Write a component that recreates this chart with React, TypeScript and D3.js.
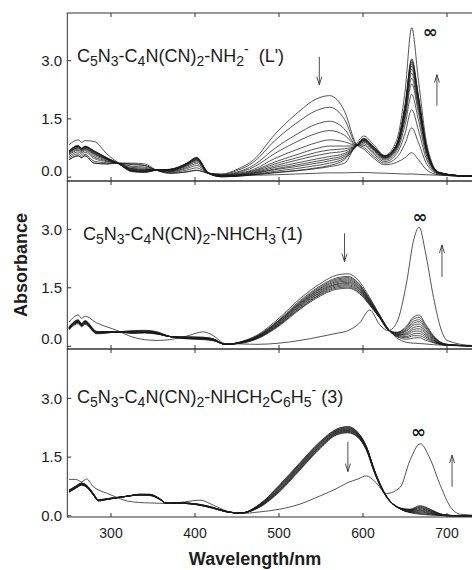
import React from 'react';
import * as d3 from 'd3';

// wavelength grids (nm) for each panel
const WL1 = [250, 261, 265, 269, 280, 295, 308, 325, 340, 354, 370, 390, 402, 416, 432, 450, 470, 495, 520, 545, 560, 578, 592, 601, 612, 626, 640, 650, 658, 666, 676, 690, 720, 760];
const WL2 = [250, 261, 265, 269, 283, 308, 325, 340, 355, 370, 390, 410, 422, 436, 455, 475, 500, 525, 550, 568, 582, 596, 608, 620, 630, 640, 652, 660, 667, 674, 684, 692, 700, 730, 760];
const WL3 = [250, 258, 265, 271, 279, 285, 296, 319, 334, 346, 358, 366, 382, 406, 422, 438, 454, 477, 501, 525, 549, 569, 582, 594, 604, 614, 628, 644, 656, 668, 680, 692, 704, 716, 740, 760];

// panel 1: C5N3-C4N(CN)2-NH2- (L') titration spectra
const L1_SPECTRA = [
  [0.45, 0.55, 0.5, 0.55, 0.36, 0.34, 0.36, 0.36, 0.34, 0.18, 0.1, 0.14, 0.18, 0.1, 0.08, 0.2, 0.45, 1.1, 1.62, 2.02, 2.1, 1.7, 0.85, 0.72, 0.5, 0.32, 0.38, 0.5, 0.63, 0.45, 0.18, 0.06, 0.02, 0.01],
  [0.49, 0.6, 0.54, 0.59, 0.41, 0.37, 0.36, 0.32, 0.3, 0.18, 0.12, 0.18, 0.24, 0.1, 0.07, 0.17, 0.39, 0.94, 1.38, 1.72, 1.8, 1.49, 0.84, 0.77, 0.55, 0.36, 0.5, 0.86, 1.27, 0.89, 0.33, 0.08, 0.02, 0.01],
  [0.53, 0.65, 0.59, 0.64, 0.48, 0.4, 0.36, 0.28, 0.26, 0.18, 0.14, 0.22, 0.3, 0.1, 0.05, 0.13, 0.31, 0.74, 1.09, 1.37, 1.44, 1.24, 0.83, 0.82, 0.61, 0.4, 0.6, 1.12, 1.74, 1.21, 0.44, 0.09, 0.02, 0.01],
  [0.57, 0.69, 0.63, 0.68, 0.52, 0.42, 0.36, 0.25, 0.23, 0.18, 0.15, 0.25, 0.35, 0.1, 0.05, 0.11, 0.26, 0.61, 0.9, 1.13, 1.2, 1.08, 0.83, 0.86, 0.65, 0.44, 0.67, 1.34, 2.13, 1.47, 0.53, 0.1, 0.03, 0.01],
  [0.6, 0.72, 0.66, 0.71, 0.56, 0.44, 0.36, 0.22, 0.2, 0.18, 0.16, 0.28, 0.39, 0.1, 0.04, 0.09, 0.2, 0.48, 0.7, 0.89, 0.96, 0.91, 0.82, 0.9, 0.69, 0.47, 0.72, 1.49, 2.4, 1.66, 0.6, 0.1, 0.03, 0.01],
  [0.62, 0.75, 0.68, 0.73, 0.59, 0.46, 0.36, 0.2, 0.18, 0.18, 0.17, 0.3, 0.42, 0.1, 0.03, 0.07, 0.17, 0.39, 0.57, 0.74, 0.8, 0.8, 0.81, 0.92, 0.72, 0.49, 0.75, 1.57, 2.55, 1.76, 0.63, 0.11, 0.03, 0.01],
  [0.63, 0.76, 0.7, 0.74, 0.61, 0.46, 0.36, 0.19, 0.17, 0.18, 0.18, 0.31, 0.44, 0.1, 0.03, 0.06, 0.15, 0.34, 0.49, 0.64, 0.7, 0.73, 0.81, 0.94, 0.73, 0.5, 0.78, 1.64, 2.68, 1.85, 0.66, 0.11, 0.03, 0.01],
  [0.64, 0.77, 0.71, 0.76, 0.62, 0.47, 0.36, 0.18, 0.16, 0.18, 0.18, 0.32, 0.45, 0.1, 0.02, 0.05, 0.13, 0.29, 0.43, 0.56, 0.62, 0.67, 0.81, 0.95, 0.75, 0.51, 0.8, 1.7, 2.78, 1.92, 0.69, 0.11, 0.03, 0.01],
  [0.65, 0.79, 0.72, 0.77, 0.64, 0.48, 0.36, 0.17, 0.15, 0.18, 0.19, 0.33, 0.47, 0.1, 0.02, 0.04, 0.11, 0.25, 0.36, 0.47, 0.53, 0.61, 0.81, 0.96, 0.76, 0.52, 0.81, 1.74, 2.86, 1.97, 0.7, 0.12, 0.03, 0.01],
  [0.66, 0.8, 0.73, 0.78, 0.65, 0.49, 0.36, 0.16, 0.14, 0.18, 0.19, 0.34, 0.48, 0.1, 0.02, 0.04, 0.1, 0.21, 0.31, 0.41, 0.47, 0.57, 0.8, 0.97, 0.77, 0.53, 0.82, 1.78, 2.92, 2.01, 0.72, 0.12, 0.03, 0.01],
  [0.67, 0.8, 0.73, 0.78, 0.66, 0.49, 0.36, 0.16, 0.14, 0.18, 0.19, 0.35, 0.49, 0.1, 0.01, 0.03, 0.09, 0.19, 0.27, 0.36, 0.42, 0.53, 0.8, 0.98, 0.78, 0.54, 0.83, 1.81, 2.97, 2.05, 0.73, 0.12, 0.03, 0.01],
  [0.67, 0.81, 0.74, 0.79, 0.67, 0.5, 0.36, 0.15, 0.13, 0.18, 0.2, 0.35, 0.5, 0.1, 0.01, 0.03, 0.07, 0.15, 0.22, 0.3, 0.36, 0.49, 0.8, 0.99, 0.79, 0.54, 0.84, 1.83, 3.01, 2.07, 0.74, 0.12, 0.03, 0.01],
  [0.68, 0.82, 0.75, 0.8, 0.68, 0.5, 0.36, 0.14, 0.12, 0.18, 0.2, 0.36, 0.51, 0.1, 0.01, 0.02, 0.06, 0.12, 0.17, 0.24, 0.3, 0.45, 0.8, 1.0, 0.8, 0.55, 0.85, 1.85, 3.05, 2.1, 0.75, 0.12, 0.03, 0.01],
];
const L1_FLAT = [0.45, 0.55, 0.5, 0.55, 0.36, 0.34, 0.36, 0.34, 0.3, 0.18, 0.1, 0.13, 0.17, 0.1, 0.06, 0.05, 0.05, 0.06, 0.08, 0.1, 0.11, 0.11, 0.12, 0.12, 0.11, 0.1, 0.09, 0.08, 0.08, 0.07, 0.06, 0.05, 0.04, 0.03];
const L1_INF = [0.83, 0.96, 0.9, 0.94, 0.92, 0.6, 0.38, 0.22, 0.2, 0.19, 0.2, 0.34, 0.48, 0.12, 0.03, 0.03, 0.06, 0.11, 0.16, 0.22, 0.27, 0.36, 0.85, 1.06, 0.85, 0.56, 0.95, 2.2, 3.85, 2.5, 0.85, 0.13, 0.03, 0.01];

// panel 2: NHCH3- (1)
const L2_SPECTRA = [
  [0.42, 0.58, 0.5, 0.56, 0.32, 0.37, 0.4, 0.41, 0.37, 0.25, 0.19, 0.17, 0.14, 0.05, 0.12, 0.3, 0.72, 1.22, 1.62, 1.82, 1.86, 1.65, 1.25, 0.8, 0.45, 0.22, 0.1, 0.08, 0.07, 0.06, 0.04, 0.03, 0.02, 0.01, 0],
  [0.44, 0.6, 0.52, 0.58, 0.33, 0.37, 0.39, 0.4, 0.36, 0.25, 0.2, 0.18, 0.15, 0.05, 0.11, 0.28, 0.68, 1.17, 1.56, 1.75, 1.79, 1.59, 1.21, 0.78, 0.44, 0.25, 0.18, 0.21, 0.22, 0.16, 0.09, 0.05, 0.03, 0.01, 0],
  [0.44, 0.61, 0.52, 0.59, 0.34, 0.37, 0.38, 0.39, 0.35, 0.25, 0.2, 0.19, 0.15, 0.05, 0.11, 0.27, 0.66, 1.14, 1.53, 1.72, 1.76, 1.57, 1.19, 0.78, 0.44, 0.26, 0.22, 0.27, 0.27, 0.21, 0.1, 0.05, 0.03, 0.01, 0],
  [0.45, 0.62, 0.53, 0.6, 0.34, 0.37, 0.37, 0.38, 0.35, 0.25, 0.21, 0.19, 0.16, 0.05, 0.11, 0.26, 0.65, 1.12, 1.5, 1.69, 1.73, 1.54, 1.18, 0.77, 0.44, 0.27, 0.25, 0.32, 0.33, 0.25, 0.12, 0.06, 0.03, 0.01, 0],
  [0.46, 0.62, 0.54, 0.6, 0.35, 0.37, 0.37, 0.38, 0.34, 0.25, 0.21, 0.2, 0.16, 0.05, 0.1, 0.26, 0.63, 1.1, 1.48, 1.66, 1.7, 1.52, 1.16, 0.77, 0.44, 0.28, 0.29, 0.38, 0.39, 0.29, 0.14, 0.07, 0.03, 0.01, 0],
  [0.46, 0.63, 0.54, 0.61, 0.35, 0.37, 0.36, 0.37, 0.34, 0.25, 0.22, 0.2, 0.17, 0.05, 0.1, 0.25, 0.62, 1.08, 1.45, 1.63, 1.67, 1.49, 1.15, 0.76, 0.43, 0.29, 0.32, 0.43, 0.45, 0.33, 0.16, 0.07, 0.04, 0.01, 0],
  [0.47, 0.64, 0.55, 0.62, 0.36, 0.37, 0.36, 0.37, 0.33, 0.25, 0.22, 0.21, 0.17, 0.05, 0.1, 0.24, 0.6, 1.06, 1.43, 1.6, 1.64, 1.47, 1.13, 0.75, 0.43, 0.3, 0.35, 0.48, 0.51, 0.37, 0.18, 0.08, 0.04, 0.01, 0],
  [0.47, 0.65, 0.55, 0.63, 0.36, 0.37, 0.35, 0.36, 0.33, 0.25, 0.22, 0.21, 0.17, 0.05, 0.09, 0.23, 0.58, 1.04, 1.4, 1.58, 1.61, 1.45, 1.11, 0.75, 0.43, 0.32, 0.39, 0.54, 0.57, 0.41, 0.2, 0.08, 0.04, 0.01, 0],
  [0.48, 0.66, 0.56, 0.64, 0.37, 0.37, 0.35, 0.36, 0.32, 0.25, 0.23, 0.22, 0.18, 0.05, 0.09, 0.22, 0.57, 1.02, 1.38, 1.55, 1.58, 1.42, 1.1, 0.74, 0.43, 0.33, 0.42, 0.59, 0.63, 0.46, 0.22, 0.09, 0.04, 0.01, 0],
  [0.49, 0.66, 0.57, 0.64, 0.37, 0.37, 0.34, 0.35, 0.32, 0.25, 0.23, 0.22, 0.18, 0.05, 0.09, 0.22, 0.55, 0.99, 1.35, 1.52, 1.55, 1.4, 1.08, 0.73, 0.43, 0.34, 0.45, 0.64, 0.68, 0.5, 0.23, 0.1, 0.05, 0.01, 0],
  [0.49, 0.67, 0.57, 0.65, 0.38, 0.37, 0.34, 0.35, 0.32, 0.25, 0.24, 0.23, 0.19, 0.05, 0.08, 0.21, 0.54, 0.97, 1.33, 1.49, 1.52, 1.37, 1.07, 0.73, 0.42, 0.35, 0.49, 0.7, 0.74, 0.54, 0.25, 0.1, 0.05, 0.01, 0],
  [0.5, 0.68, 0.58, 0.66, 0.38, 0.37, 0.33, 0.34, 0.31, 0.25, 0.24, 0.23, 0.19, 0.05, 0.08, 0.2, 0.52, 0.95, 1.3, 1.46, 1.49, 1.35, 1.05, 0.72, 0.42, 0.36, 0.52, 0.75, 0.8, 0.58, 0.27, 0.11, 0.05, 0.01, 0],
];
const L2_INF = [0.62, 0.8, 0.72, 0.77, 0.6, 0.4, 0.24, 0.17, 0.15, 0.17, 0.26, 0.37, 0.27, 0.07, 0.06, 0.05, 0.08, 0.15, 0.25, 0.33, 0.4, 0.6, 0.93, 0.55, 0.4, 0.6, 1.65, 2.7, 3.05, 2.45, 1.25, 0.5, 0.15, 0.02, 0.01];

// panel 3: NHCH2C6H5- (3)
const L3_SPECTRA = [
  [0.6, 0.7, 0.78, 0.73, 0.53, 0.38, 0.42, 0.5, 0.55, 0.55, 0.44, 0.32, 0.32, 0.27, 0.19, 0.1, 0.07, 0.3, 0.8, 1.36, 1.9, 2.22, 2.28, 2.13, 1.78, 1.15, 0.5, 0.18, 0.08, 0.04, 0.02, 0.01, 0, 0, 0, 0],
  [0.61, 0.71, 0.79, 0.73, 0.53, 0.38, 0.42, 0.5, 0.55, 0.55, 0.44, 0.32, 0.32, 0.27, 0.19, 0.1, 0.07, 0.29, 0.78, 1.34, 1.88, 2.21, 2.27, 2.12, 1.77, 1.14, 0.5, 0.18, 0.09, 0.06, 0.03, 0.01, 0, 0, 0, 0],
  [0.61, 0.71, 0.79, 0.74, 0.54, 0.39, 0.42, 0.5, 0.55, 0.54, 0.44, 0.32, 0.32, 0.27, 0.19, 0.1, 0.07, 0.29, 0.77, 1.33, 1.87, 2.19, 2.25, 2.11, 1.76, 1.14, 0.5, 0.18, 0.1, 0.08, 0.05, 0.02, 0, 0, 0, 0],
  [0.62, 0.72, 0.8, 0.74, 0.54, 0.39, 0.43, 0.5, 0.54, 0.54, 0.43, 0.32, 0.32, 0.28, 0.2, 0.1, 0.07, 0.28, 0.75, 1.31, 1.85, 2.18, 2.24, 2.09, 1.75, 1.13, 0.49, 0.19, 0.1, 0.1, 0.06, 0.02, 0, 0, 0, 0],
  [0.62, 0.72, 0.8, 0.75, 0.54, 0.39, 0.43, 0.5, 0.54, 0.54, 0.43, 0.32, 0.32, 0.28, 0.2, 0.1, 0.07, 0.27, 0.74, 1.29, 1.84, 2.17, 2.22, 2.08, 1.74, 1.12, 0.49, 0.19, 0.11, 0.12, 0.07, 0.02, 0, 0, 0, 0],
  [0.63, 0.73, 0.81, 0.75, 0.55, 0.39, 0.43, 0.5, 0.54, 0.54, 0.43, 0.32, 0.32, 0.28, 0.2, 0.1, 0.07, 0.26, 0.72, 1.27, 1.82, 2.15, 2.21, 2.07, 1.74, 1.12, 0.49, 0.19, 0.12, 0.14, 0.09, 0.03, 0, 0, 0, 0],
  [0.63, 0.73, 0.81, 0.76, 0.55, 0.4, 0.43, 0.5, 0.54, 0.53, 0.43, 0.32, 0.33, 0.28, 0.2, 0.11, 0.07, 0.26, 0.7, 1.26, 1.8, 2.14, 2.19, 2.06, 1.73, 1.11, 0.49, 0.19, 0.13, 0.16, 0.1, 0.03, 0.01, 0, 0, 0],
  [0.64, 0.74, 0.82, 0.76, 0.56, 0.4, 0.43, 0.5, 0.54, 0.53, 0.43, 0.32, 0.33, 0.28, 0.2, 0.11, 0.07, 0.25, 0.68, 1.24, 1.78, 2.12, 2.18, 2.05, 1.72, 1.11, 0.49, 0.19, 0.14, 0.18, 0.12, 0.04, 0.01, 0, 0, 0],
  [0.64, 0.74, 0.82, 0.77, 0.56, 0.4, 0.43, 0.5, 0.54, 0.53, 0.43, 0.32, 0.33, 0.28, 0.2, 0.11, 0.07, 0.24, 0.67, 1.22, 1.77, 2.11, 2.16, 2.04, 1.71, 1.1, 0.49, 0.19, 0.15, 0.2, 0.13, 0.04, 0.01, 0, 0, 0],
  [0.65, 0.75, 0.83, 0.77, 0.56, 0.4, 0.44, 0.5, 0.53, 0.53, 0.42, 0.32, 0.33, 0.29, 0.21, 0.11, 0.07, 0.23, 0.65, 1.2, 1.75, 2.1, 2.15, 2.02, 1.7, 1.09, 0.48, 0.2, 0.15, 0.22, 0.14, 0.04, 0.01, 0, 0, 0],
  [0.65, 0.75, 0.83, 0.78, 0.57, 0.41, 0.44, 0.5, 0.53, 0.52, 0.42, 0.32, 0.33, 0.29, 0.21, 0.11, 0.07, 0.23, 0.64, 1.19, 1.74, 2.08, 2.13, 2.01, 1.69, 1.09, 0.48, 0.2, 0.16, 0.24, 0.16, 0.05, 0.01, 0, 0, 0],
  [0.66, 0.76, 0.84, 0.78, 0.57, 0.41, 0.44, 0.5, 0.53, 0.52, 0.42, 0.32, 0.33, 0.29, 0.21, 0.11, 0.07, 0.22, 0.62, 1.17, 1.72, 2.07, 2.12, 2.0, 1.68, 1.08, 0.48, 0.2, 0.17, 0.26, 0.17, 0.05, 0.01, 0, 0, 0],
];
const L3_INF = [0.93, 0.93, 0.87, 0.94, 0.74, 0.66, 0.57, 0.38, 0.34, 0.33, 0.32, 0.32, 0.34, 0.4, 0.27, 0.12, 0.06, 0.1, 0.17, 0.3, 0.51, 0.7, 0.85, 0.94, 1.02, 0.88, 0.57, 0.72, 1.42, 1.84, 1.45, 0.78, 0.23, 0.04, 0.01, 0];

const X_TICKS = [300, 400, 500, 600, 700];
const Y_TICKS = [0, 1.5, 3.0];

type Seg = { t: string; k?: 'sub' | 'sup' };
const TITLES: Seg[][] = [
  [{ t: 'C' }, { t: '5', k: 'sub' }, { t: 'N' }, { t: '3', k: 'sub' }, { t: '-C' }, { t: '4', k: 'sub' }, { t: 'N(CN)' }, { t: '2', k: 'sub' }, { t: '-NH' }, { t: '2', k: 'sub' }, { t: '-', k: 'sup' }, { t: '\u00a0\u00a0(L\')' }],
  [{ t: 'C' }, { t: '5', k: 'sub' }, { t: 'N' }, { t: '3', k: 'sub' }, { t: '-C' }, { t: '4', k: 'sub' }, { t: 'N(CN)' }, { t: '2', k: 'sub' }, { t: '-NHCH' }, { t: '3', k: 'sub' }, { t: '-', k: 'sup' }, { t: '(1)' }],
  [{ t: 'C' }, { t: '5', k: 'sub' }, { t: 'N' }, { t: '3', k: 'sub' }, { t: '-C' }, { t: '4', k: 'sub' }, { t: 'N(CN)' }, { t: '2', k: 'sub' }, { t: '-NHCH' }, { t: '2', k: 'sub' }, { t: 'C' }, { t: '6', k: 'sub' }, { t: 'H' }, { t: '5', k: 'sub' }, { t: '-', k: 'sup' }, { t: ' (3)' }],
];

// arrows (wavelength, absorbance from -> to) and infinity marks
const ARROWS = [
  { p: 0, wl: 548, from: 3.1, to: 2.38 },
  { p: 0, wl: 688, from: 1.84, to: 2.64 },
  { p: 1, wl: 578, from: 2.9, to: 2.17 },
  { p: 1, wl: 694, from: 1.78, to: 2.6 },
  { p: 2, wl: 582, from: 1.89, to: 1.13 },
  { p: 2, wl: 706, from: 0.74, to: 1.55 },
];
const INF_MARKS = [
  { p: 0, wl: 680, a: 3.76 },
  { p: 1, wl: 668, a: 3.32 },
  { p: 2, wl: 666, a: 2.14 },
];

const W = 472;
const H = 570;
const FONT = 'Liberation Sans, Arial, Helvetica, sans-serif';
const INK = '#1c1c1c';

const x = d3.scaleLinear().domain([300, 700]).range([111, 447]);
const frameL = x(248);
const frameR = x(800);
const panelH = 168;
const panels = [
  { top: 13, dom: [-0.1, 4.23], title: { x: 77, y: 61.5 }, zeroNudge: -7 },
  { top: 181, dom: [-0.07, 4.24], title: { x: 83, y: 240 }, zeroNudge: -8 },
  { top: 349, dom: [-0.03, 4.26], title: { x: 77, y: 403 }, zeroNudge: 0 },
].map(p => ({ ...p, y: d3.scaleLinear().domain(p.dom).range([p.top + panelH, p.top]) }));

const panelData = [
  { wl: WL1, bundle: [...L1_SPECTRA, L1_FLAT], inf: L1_INF },
  { wl: WL2, bundle: L2_SPECTRA, inf: L2_INF },
  { wl: WL3, bundle: L3_SPECTRA, inf: L3_INF },
];

function Title({ segs, px, py }: { segs: Seg[]; px: number; py: number }) {
  let cur = 0;
  return (
    <text x={px} y={py} fontFamily={FONT} fontSize={18} fill={INK}>
      {segs.map((s, i) => {
        const target = s.k === 'sub' ? 4 : s.k === 'sup' ? -8 : 0;
        const dy = target - cur;
        cur = target;
        return (
          <tspan key={i} dy={dy} fontSize={s.k ? 14 : 18}>
            {s.t}
          </tspan>
        );
      })}
    </text>
  );
}

export default function App() {
  return (
    <svg width={W} height={H} style={{ position: 'absolute', left: 0, top: 0, background: '#fff' }}>
      <defs>
        <clipPath id="plotclip">
          <rect x={frameL} y={13} width={frameR - frameL} height={panelH * 3} />
        </clipPath>
      </defs>
      {panels.map((p, pi) => {
        const d = panelData[pi];
        const line = d3
          .line<number>()
          .x((_, i) => x(d.wl[i]))
          .y(v => p.y(v))
          .curve(d3.curveMonotoneX);
        return (
          <g key={pi}>
            <g clipPath="url(#plotclip)" fill="none" strokeLinejoin="round">
              {d.bundle.map((s, i) => (
                <path key={i} d={line(s) || ''} stroke={INK} strokeWidth={0.75} />
              ))}
              <path d={line(d.inf) || ''} stroke={INK} strokeWidth={0.75} />
            </g>
            <rect x={frameL} y={p.top} width={frameR - frameL} height={panelH} fill="none" stroke="#333" strokeWidth={1} />
            {X_TICKS.map(t => (
              <g key={t} stroke="#333" strokeWidth={1}>
                <line x1={x(t)} x2={x(t)} y1={p.top + panelH} y2={p.top + panelH - 4} />
                <line x1={x(t)} x2={x(t)} y1={p.top} y2={p.top + 4} />
              </g>
            ))}
            {Y_TICKS.map(t => (
              <g key={t}>
                <line x1={frameL} x2={frameL + 4} y1={p.y(t)} y2={p.y(t)} stroke="#333" strokeWidth={1} />
                <text
                  x={62}
                  y={p.y(t) + (t === 0 ? p.zeroNudge : 0)}
                  dy="0.36em"
                  textAnchor="end"
                  fontFamily={FONT}
                  fontSize={15}
                  fill={INK}
                >
                  {t.toFixed(1)}
                </text>
              </g>
            ))}
            <Title segs={TITLES[pi]} px={p.title.x} py={p.title.y} />
          </g>
        );
      })}

      {ARROWS.map((a, i) => {
        const p = panels[a.p];
        const ax = x(a.wl);
        const y0 = p.y(a.from);
        const y1 = p.y(a.to);
        const dir = y1 > y0 ? 1 : -1;
        return (
          <g key={i} stroke="#3a3a3a" strokeWidth={0.9} fill="none">
            <line x1={ax} x2={ax} y1={y0} y2={y1} />
            <path d={`M${ax - 2.5},${y1 - dir * 8} L${ax},${y1} L${ax + 2.5},${y1 - dir * 8}`} />
          </g>
        );
      })}

      {INF_MARKS.map((m, i) => (
        <text
          key={i}
          x={x(m.wl)}
          y={panels[m.p].y(m.a)}
          dy="0.35em"
          textAnchor="middle"
          fontFamily="DejaVu Sans, sans-serif"
          fontWeight="bold"
          fontSize={18}
          fill={INK}
        >
          ∞
        </text>
      ))}

      {X_TICKS.map(t => (
        <text key={t} x={x(t)} y={538} textAnchor="middle" fontFamily={FONT} fontSize={14} fill={INK}>
          {t}
        </text>
      ))}

      <text
        transform={`translate(27,${panels[1].top + panelH / 2 + 181 - panels[1].top}) rotate(-90)`}
        textAnchor="middle"
        fontFamily={FONT}
        fontWeight="bold"
        fontSize={18}
        fill={INK}
      >
        Absorbance
      </text>
      <text x={255} y={565} textAnchor="middle" fontFamily={FONT} fontWeight="bold" fontSize={18} fill={INK}>
        Wavelength/nm
      </text>
    </svg>
  );
}
